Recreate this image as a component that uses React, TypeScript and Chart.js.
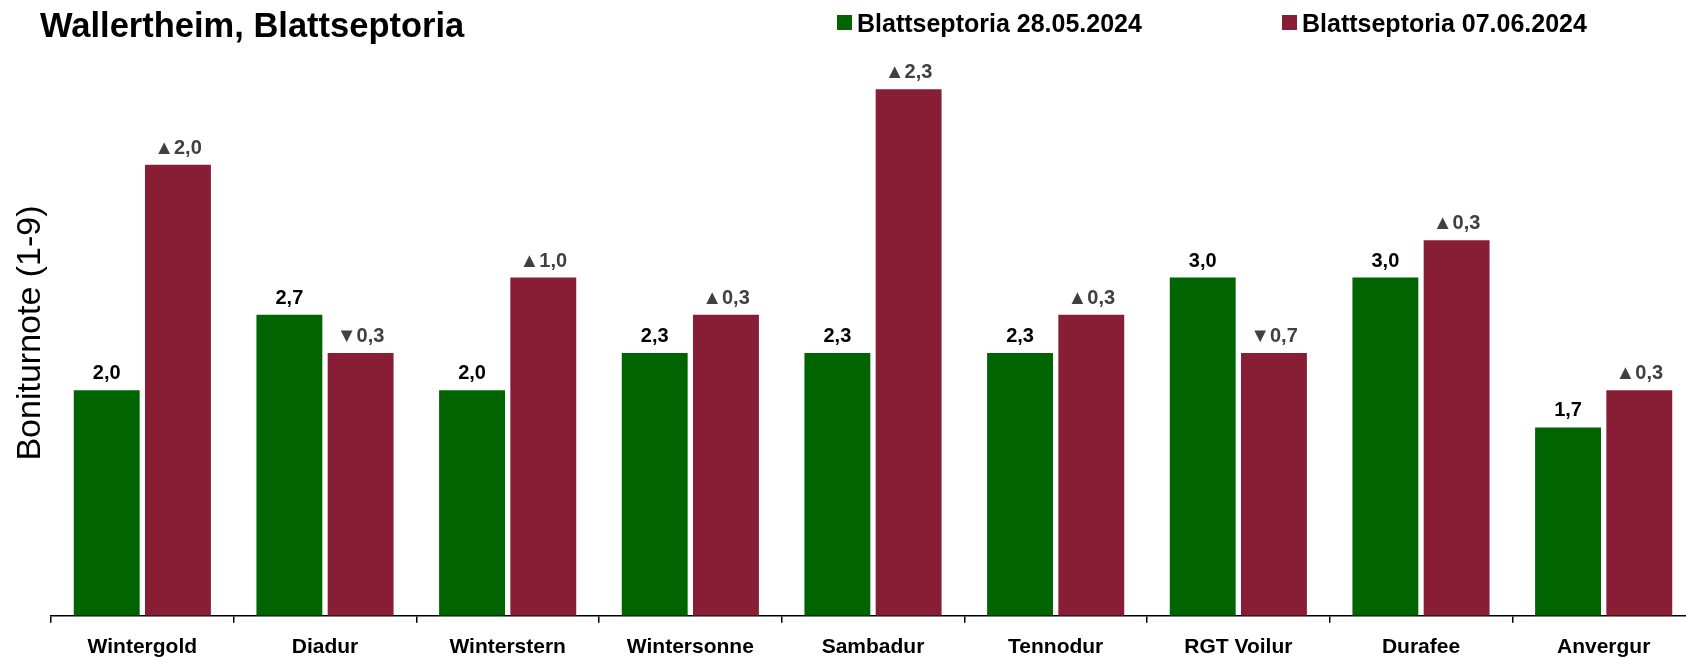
import { useEffect, useRef } from 'react';
import { Chart, registerables } from 'chart.js';

Chart.register(...registerables);

const chartTitle = 'Wallertheim, Blattseptoria';
const yAxisTitle = 'Boniturnote (1-9)';
const categories = ['Wintergold', 'Diadur', 'Winterstern', 'Wintersonne', 'Sambadur', 'Tennodur', 'RGT Voilur', 'Durafee', 'Anvergur'];
const series1Label = 'Blattseptoria 28.05.2024';
const series2Label = 'Blattseptoria 07.06.2024';
const series1 = [2.0, 2.67, 2.0, 2.33, 2.33, 2.33, 3.0, 3.0, 1.67];
const series2 = [4.0, 2.33, 3.0, 2.67, 4.67, 2.67, 2.33, 3.33, 2.0];
const yMin = 0;
const yMax = 5;

const GREEN = '#006400';
const RED = '#881E35';
const FONT = '"Liberation Sans", Arial, sans-serif';

const fmt = (v: number) => v.toFixed(1).replace('.', ',');

const customPlugin = {
  id: 'customDecor',
  afterDatasetsDraw(chart: any) {
    const ctx = chart.ctx;
    ctx.save();
    ctx.font = `bold 20px ${FONT}`;
    ctx.textAlign = 'center';
    ctx.textBaseline = 'alphabetic';
    chart.data.datasets.forEach((_ds: any, di: number) => {
      const meta = chart.getDatasetMeta(di);
      meta.data.forEach((bar: any, i: number) => {
        let text: string;
        if (di === 0) {
          text = fmt(series1[i]);
          ctx.fillStyle = '#000000';
        } else {
          const d = series2[i] - series1[i];
          text = (d >= 0 ? '\u25B2' : '\u25BC') + fmt(Math.abs(d));
          ctx.fillStyle = '#404040';
        }
        ctx.fillText(text, bar.x, bar.y - 11);
      });
    });
    ctx.restore();
  },
  afterDraw(chart: any) {
    const ctx = chart.ctx;
    ctx.save();
    // title
    ctx.fillStyle = '#000000';
    ctx.textAlign = 'left';
    ctx.textBaseline = 'alphabetic';
    ctx.font = `bold 34.5px ${FONT}`;
    ctx.fillText(chartTitle, 40, 37);
    // legend
    ctx.font = `bold 25px ${FONT}`;
    const items = [
      { label: series1Label, color: GREEN, x: 837 },
      { label: series2Label, color: RED, x: 1282 },
    ];
    items.forEach((it) => {
      ctx.fillStyle = it.color;
      ctx.fillRect(it.x, 15, 15, 15);
      ctx.fillStyle = '#000000';
      ctx.fillText(it.label, it.x + 20, 32);
    });
    // y axis title
    ctx.translate(31, 333);
    ctx.rotate(-Math.PI / 2);
    ctx.textAlign = 'center';
    ctx.textBaseline = 'middle';
    ctx.font = `34px ${FONT}`;
    ctx.fillText(yAxisTitle, 0, 0);
    ctx.restore();
  },
};

export default function App() {
  const ref = useRef<HTMLCanvasElement | null>(null);
  useEffect(() => {
    document.body.style.margin = '0';
    if (!ref.current) return;
    const chart = new Chart(ref.current, {
      type: 'bar',
      data: {
        labels: categories,
        datasets: [
          { label: series1Label, data: series1, backgroundColor: GREEN, categoryPercentage: 0.78, barPercentage: 0.925 },
          { label: series2Label, data: series2, backgroundColor: RED, categoryPercentage: 0.78, barPercentage: 0.925 },
        ],
      },
      options: {
        responsive: false,
        animation: false,
        devicePixelRatio: 1,
        layout: { padding: { top: 52, left: 51, right: 5, bottom: 0 } },
        plugins: {
          legend: { display: false },
          title: { display: false },
          tooltip: { enabled: false },
        },
        scales: {
          x: {
            offset: true,
            grid: {
              display: true,
              offset: true,
              drawOnChartArea: false,
              drawTicks: true,
              tickLength: 7,
              color: '#000000',
              lineWidth: 1.5,
            },
            border: { display: true, color: '#000000', width: 1.5 },
            ticks: {
              color: '#000000',
              padding: 12,
              maxRotation: 0,
              autoSkip: false,
              font: { family: FONT, size: 21, weight: 'bold', lineHeight: 1.2 },
            },
          },
          y: {
            display: false,
            min: yMin,
            max: yMax,
          },
        },
      },
      plugins: [customPlugin],
    });
    return () => chart.destroy();
  }, []);
  return (
    <div style={{ width: 1686, height: 657, overflow: 'hidden', background: '#ffffff' }}>
      <canvas ref={ref} width={1700} height={672} style={{ width: 1700, height: 672, display: 'block' }} />
    </div>
  );
}
